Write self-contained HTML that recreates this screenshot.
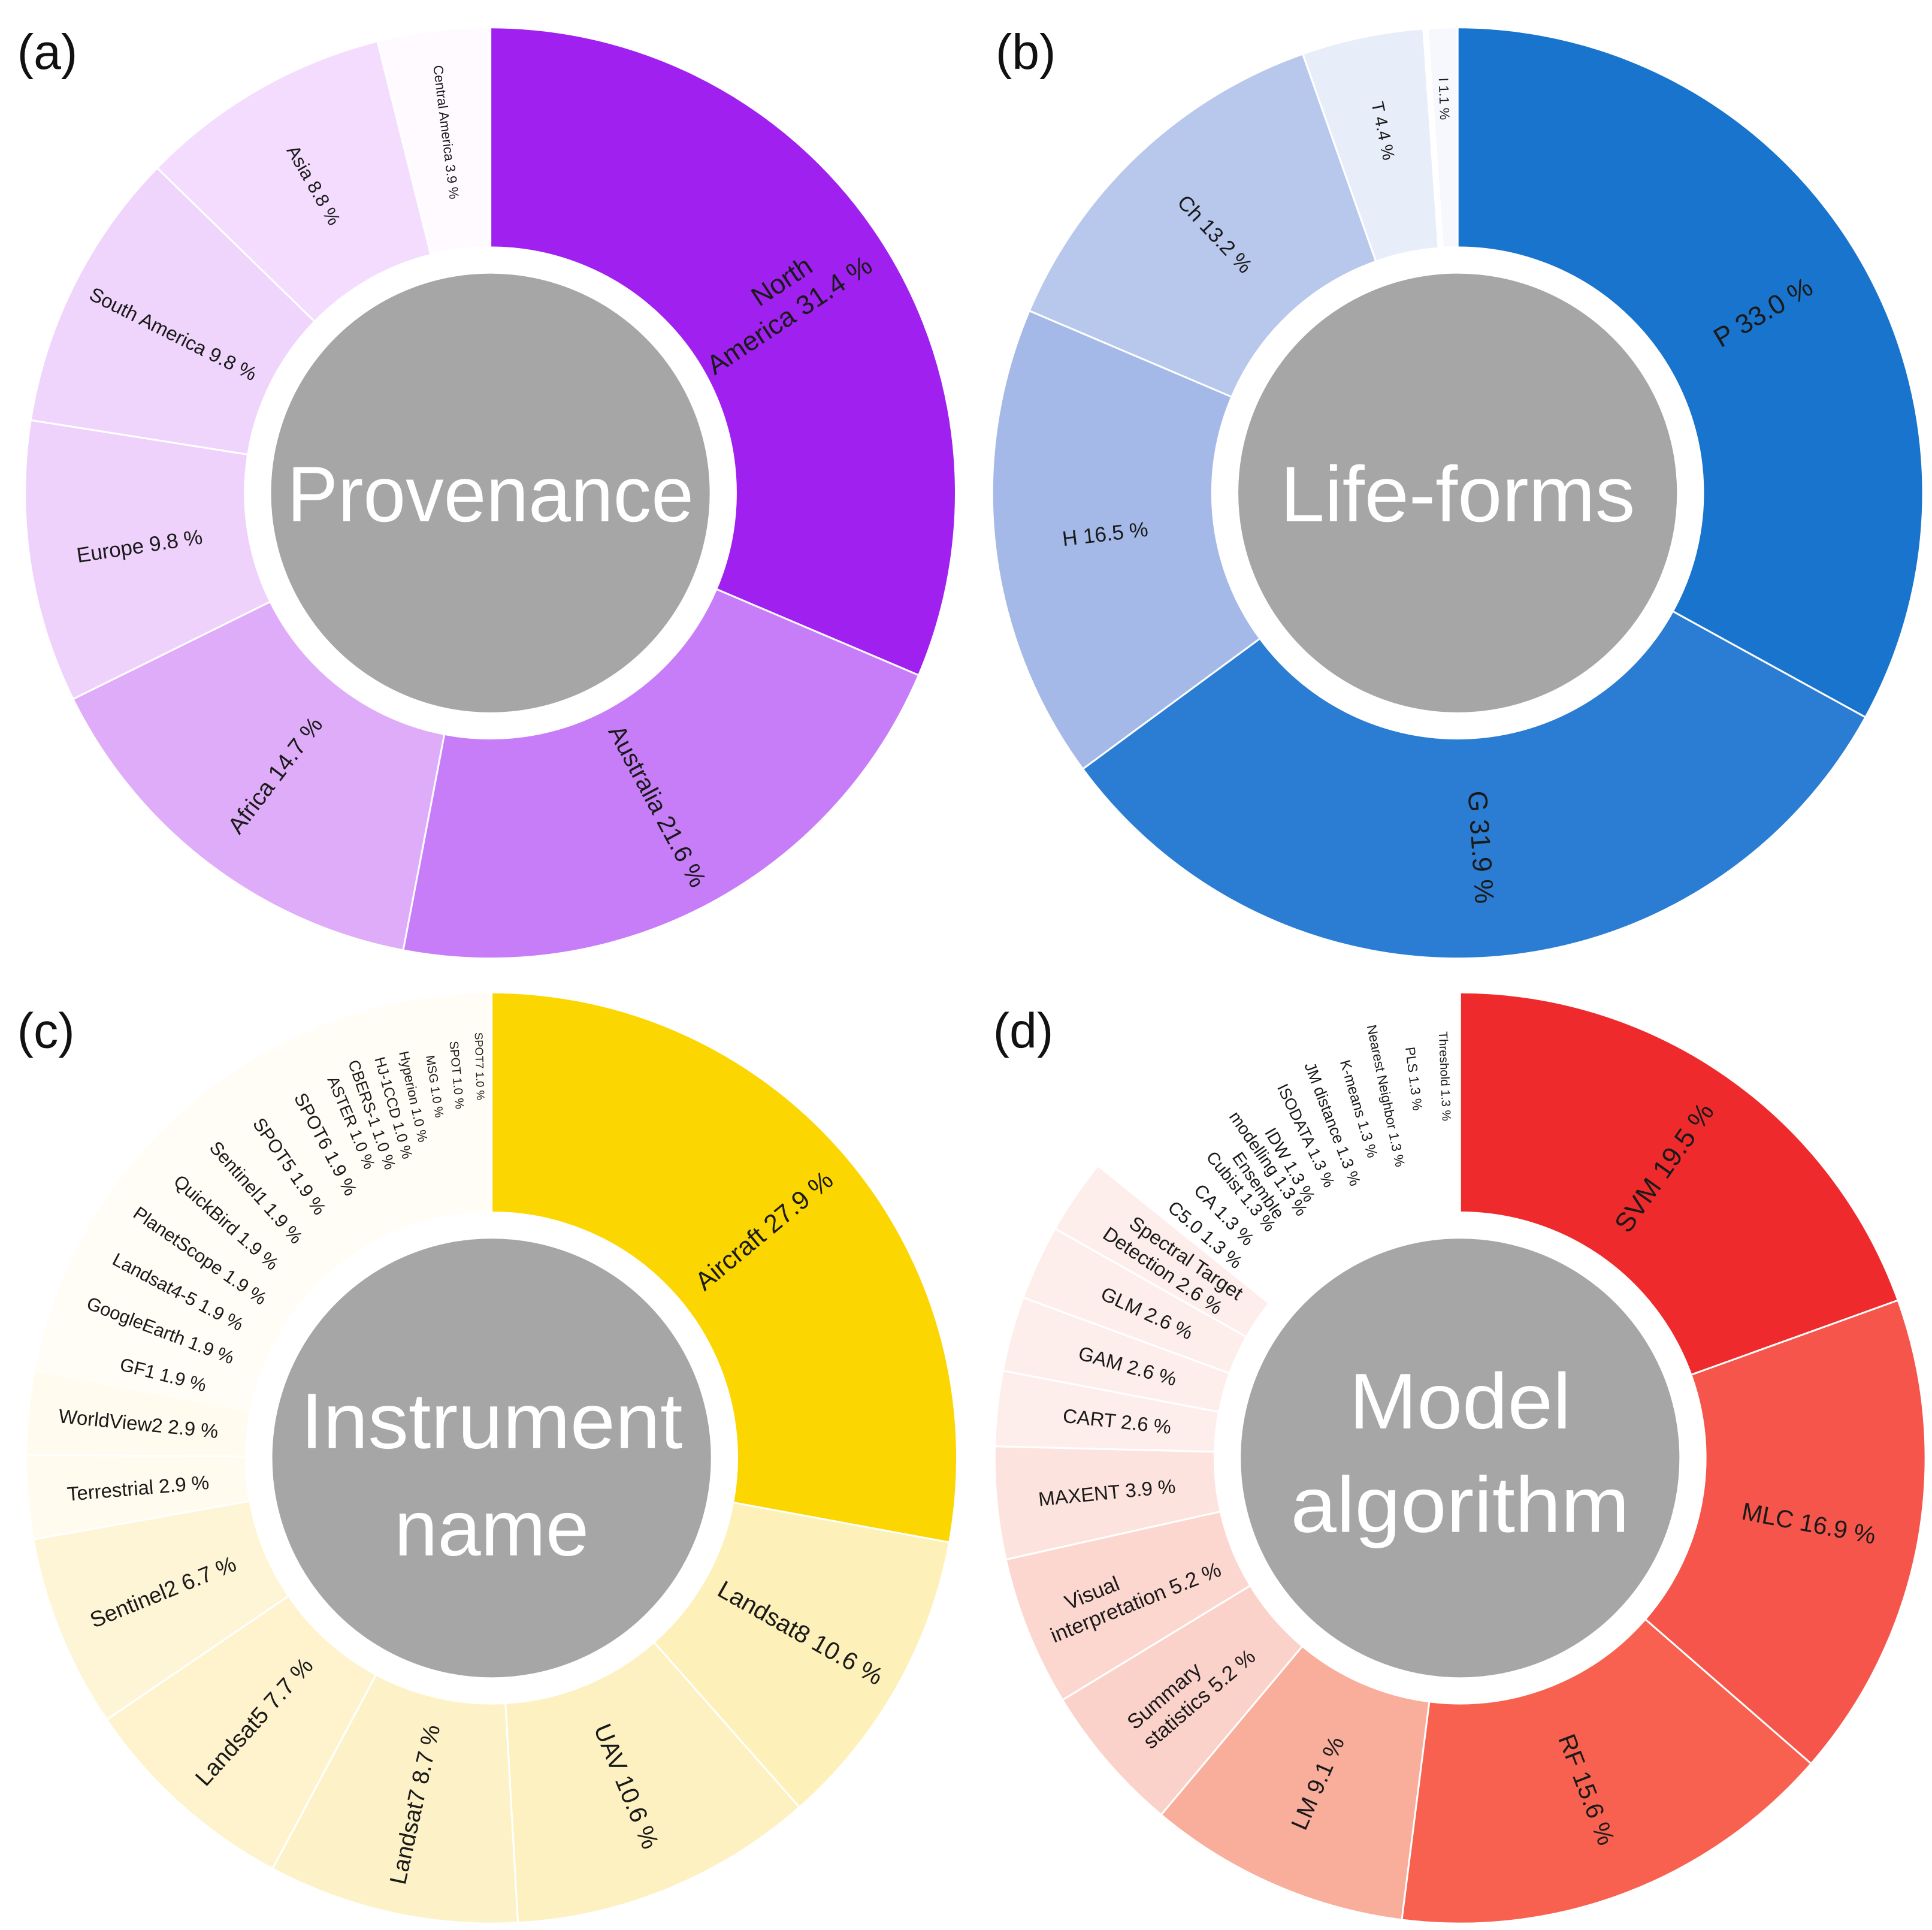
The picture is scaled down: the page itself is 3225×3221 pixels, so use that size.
<!DOCTYPE html>
<html><head><meta charset="utf-8"><style>
html,body{margin:0;padding:0;background:#fff;}
svg{display:block;}
text{font-family:"Liberation Sans",sans-serif;}
.l{fill:#1a1a1a;text-anchor:middle;dominant-baseline:central;}
.c{fill:#fff;text-anchor:middle;}
.p{fill:#111;font-size:40px;}
</style></head><body>
<svg width="3225" height="3221" viewBox="0 0 1568 1566" preserveAspectRatio="none" xmlns="http://www.w3.org/2000/svg">
<rect width="1568" height="1566" fill="#fff"/>
<text class="p" x="14" y="56">(a)</text>
<text class="p" x="808" y="56">(b)</text>
<text class="p" x="14" y="850">(c)</text>
<text class="p" x="806" y="850">(d)</text>

<!-- (a) -->
<g transform="translate(398,400)">
<g fill="none" stroke-width="177" transform="rotate(-90)">
<circle r="288.5" pathLength="100" stroke="#a020f0" stroke-dasharray="31.4 100" stroke-dashoffset="0"/>
<circle r="288.5" pathLength="100" stroke="#c77df8" stroke-dasharray="21.6 100" stroke-dashoffset="-31.4"/>
<circle r="288.5" pathLength="100" stroke="#deacf8" stroke-dasharray="14.7 100" stroke-dashoffset="-53"/>
<circle r="288.5" pathLength="100" stroke="#eed2fc" stroke-dasharray="9.8 100" stroke-dashoffset="-67.7"/>
<circle r="288.5" pathLength="100" stroke="#efd5fc" stroke-dasharray="9.8 100" stroke-dashoffset="-77.5"/>
<circle r="288.5" pathLength="100" stroke="#f3dcfd" stroke-dasharray="8.8 100" stroke-dashoffset="-87.3"/>
<circle r="288.5" pathLength="100" stroke="#fefaff" stroke-dasharray="3.9 100" stroke-dashoffset="-96.1"/>
</g>
<g stroke="#fff" stroke-width="1.5">
<line y1="-200" y2="-380" transform="rotate(0)"/><line y1="-200" y2="-380" transform="rotate(113.04)"/><line y1="-200" y2="-380" transform="rotate(190.8)"/><line y1="-200" y2="-380" transform="rotate(243.72)"/><line y1="-200" y2="-380" transform="rotate(279)"/><line y1="-200" y2="-380" transform="rotate(314.28)"/><line y1="-200" y2="-380" transform="rotate(345.96)"/>
</g>
<circle r="178" fill="#a6a6a6"/>
<text class="c" y="23" font-size="64" textLength="330" lengthAdjust="spacingAndGlyphs">Provenance</text>
<text class="l" font-size="22" transform="rotate(56.52) translate(0,-282) rotate(-90)"><tspan x="10" dy="-0.6em">North</tspan><tspan x="0" dy="1.2em">America 31.4 %</tspan></text>
<text class="l" font-size="20" transform="rotate(151.92) translate(0,-288) rotate(-90)">Australia 21.6 %</text>
<text class="l" font-size="19" transform="rotate(217.26) translate(0,-288) rotate(90)">Africa 14.7 %</text>
<text class="l" font-size="17" transform="rotate(261.36) translate(0,-288) rotate(90)">Europe  9.8 %</text>
<text class="l" font-size="16" transform="rotate(296.64) translate(0,-288) rotate(90)">South America  9.8 %</text>
<text class="l" font-size="15" transform="rotate(330.12) translate(0,-288) rotate(90)">Asia 8.8 %</text>
<text class="l" font-size="11" transform="rotate(352.98) translate(0,-295) rotate(90)">Central America 3.9 %</text>
</g>

<!-- (b) -->
<g transform="translate(1183,400)">
<g fill="none" stroke-width="177" transform="rotate(-90)">
<circle r="288.5" pathLength="100" stroke="#1874cd" stroke-dasharray="33 100" stroke-dashoffset="0"/>
<circle r="288.5" pathLength="100" stroke="#2b7dd3" stroke-dasharray="31.9 100" stroke-dashoffset="-33"/>
<circle r="288.5" pathLength="100" stroke="#a4b9e7" stroke-dasharray="16.5 100" stroke-dashoffset="-64.9"/>
<circle r="288.5" pathLength="100" stroke="#b8c8ec" stroke-dasharray="13.2 100" stroke-dashoffset="-81.4"/>
<circle r="288.5" pathLength="100" stroke="#e8eef9" stroke-dasharray="4.3 100" stroke-dashoffset="-94.6"/>
<circle r="288.5" pathLength="100" stroke="#f6f8fd" stroke-dasharray="1.1 100" stroke-dashoffset="-98.9"/>
</g>
<g stroke="#fff" stroke-width="1.5">
<line y1="-200" y2="-380"/><line y1="-200" y2="-380" transform="rotate(118.8)"/><line y1="-200" y2="-380" transform="rotate(233.64)"/><line y1="-200" y2="-380" transform="rotate(293.04)"/><line y1="-200" y2="-380" transform="rotate(340.56)"/><line y1="-200" y2="-380" transform="rotate(356.04)" stroke-width="5"/>
</g>
<circle r="178" fill="#a6a6a6"/>
<text class="c" y="23" font-size="64" textLength="288" lengthAdjust="spacingAndGlyphs">Life-forms</text>
<text class="l" font-size="22" transform="rotate(59.4) translate(0,-288) rotate(-90)">P 33.0 %</text>
<text class="l" font-size="22" transform="rotate(176.22) translate(0,-288) rotate(-90)">G 31.9 %</text>
<text class="l" font-size="17" transform="rotate(263.34) translate(0,-288) rotate(90)">H 16.5 %</text>
<text class="l" font-size="17" transform="rotate(316.8) translate(0,-288) rotate(90)">Ch 13.2 %</text>
<text class="l" font-size="14" transform="rotate(348.3) translate(0,-300) rotate(90)">T 4.4 %</text>
<text class="l" font-size="11" transform="rotate(358.02) translate(0,-320) rotate(90)">I 1.1 %</text>
</g>

<!-- (c) -->
<g transform="translate(399,1183)">
<g fill="none" stroke-width="177" transform="rotate(-90)">
<circle r="288.5" pathLength="100" stroke="#fcd600" stroke-dasharray="27.9 100" stroke-dashoffset="0"/>
<circle r="288.5" pathLength="100" stroke="#fdf0b8" stroke-dasharray="10.6 100" stroke-dashoffset="-27.9"/>
<circle r="288.5" pathLength="100" stroke="#fdf0c1" stroke-dasharray="10.6 100" stroke-dashoffset="-38.5"/>
<circle r="288.5" pathLength="100" stroke="#fdf2c7" stroke-dasharray="8.7 100" stroke-dashoffset="-49.1"/>
<circle r="288.5" pathLength="100" stroke="#fef3cd" stroke-dasharray="7.7 100" stroke-dashoffset="-57.8"/>
<circle r="288.5" pathLength="100" stroke="#fef5d7" stroke-dasharray="6.7 100" stroke-dashoffset="-65.5"/>
<circle r="288.5" pathLength="100" stroke="#fffbee" stroke-dasharray="5.8 100" stroke-dashoffset="-72.2"/>
<circle r="288.5" pathLength="100" stroke="#fffdf6" stroke-dasharray="22 100" stroke-dashoffset="-78"/>
</g>
<g stroke="#fff" stroke-width="1.5">
<line y1="-200" y2="-380"/><line y1="-200" y2="-380" transform="rotate(100.44)"/><line y1="-200" y2="-380" transform="rotate(138.6)"/><line y1="-200" y2="-380" transform="rotate(176.76)"/><line y1="-200" y2="-380" transform="rotate(208.08)"/><line y1="-200" y2="-380" transform="rotate(235.8)"/><line y1="-200" y2="-380" transform="rotate(259.92)"/><line y1="-200" y2="-380" transform="rotate(270.36)"/>
</g>
<circle r="178" fill="#a6a6a6"/>
<text class="c" y="-8" font-size="64" textLength="310" lengthAdjust="spacingAndGlyphs">Instrument</text>
<text class="c" y="79" font-size="64" textLength="158" lengthAdjust="spacingAndGlyphs">name</text>
<text class="l" font-size="21" transform="rotate(50.22) translate(0,-288) rotate(-90)">Aircraft 27.9 %</text>
<text class="l" font-size="20" transform="rotate(119.52) translate(0,-288) rotate(-90)">Landsat8 10.6 %</text>
<text class="l" font-size="20" transform="rotate(157.68) translate(0,-288) rotate(-90)">UAV 10.6 %</text>
<text class="l" font-size="19" transform="rotate(192.42) translate(0,-288) rotate(90)">Landsat7  8.7 %</text>
<text class="l" font-size="19" transform="rotate(221.94) translate(0,-288) rotate(90)">Landsat5  7.7 %</text>
<text class="l" font-size="18" transform="rotate(247.86) translate(0,-288) rotate(90)">Sentinel2  6.7 %</text>
<text class="l" font-size="16" transform="rotate(265.14) translate(0,-288) rotate(90)">Terrestrial  2.9 %</text>
<text class="l" font-size="16" transform="rotate(275.58) translate(0,-288) rotate(90)">WorldView2  2.9 %</text>
<text class="l" font-size="15" transform="rotate(284.22) translate(0,-275) rotate(90)">GF1  1.9 %</text>
<text class="l" font-size="15" transform="rotate(291.06) translate(0,-288) rotate(90)">GoogleEarth  1.9 %</text>
<text class="l" font-size="15" transform="rotate(297.9) translate(0,-288) rotate(90)">Landsat4-5  1.9 %</text>
<text class="l" font-size="15" transform="rotate(304.74) translate(0,-288) rotate(90)">PlanetScope  1.9 %</text>
<text class="l" font-size="15" transform="rotate(311.58) translate(0,-288) rotate(90)">QuickBird  1.9 %</text>
<text class="l" font-size="15" transform="rotate(318.42) translate(0,-288) rotate(90)">Sentinel1  1.9 %</text>
<text class="l" font-size="15" transform="rotate(325.26) translate(0,-288) rotate(90)">SPOT5  1.9 %</text>
<text class="l" font-size="15" transform="rotate(332.1) translate(0,-288) rotate(90)">SPOT6  1.9 %</text>
<text class="l" font-size="13" transform="rotate(337.27) translate(0,-295) rotate(90)">ASTER  1.0 %</text>
<text class="l" font-size="13" transform="rotate(340.77) translate(0,-295) rotate(90)">CBERS-1  1.0 %</text>
<text class="l" font-size="12" transform="rotate(344.27) translate(0,-295) rotate(90)">HJ-1CCD  1.0 %</text>
<text class="l" font-size="11" transform="rotate(347.76) translate(0,-300) rotate(90)">Hyperion  1.0 %</text>
<text class="l" font-size="10" transform="rotate(351.26) translate(0,-305) rotate(90)">MSG  1.0 %</text>
<text class="l" font-size="10" transform="rotate(354.76) translate(0,-312) rotate(90)">SPOT  1.0 %</text>
<text class="l" font-size="9" transform="rotate(358.26) translate(0,-318) rotate(90)">SPOT7  1.0 %</text>
</g>

<!-- (d) -->
<g transform="translate(1185,1183)">
<g fill="none" stroke-width="177" transform="rotate(-90)">
<circle r="288.5" pathLength="100" stroke="#ee2a2c" stroke-dasharray="19.5 100" stroke-dashoffset="0"/>
<circle r="288.5" pathLength="100" stroke="#f5554a" stroke-dasharray="16.9 100" stroke-dashoffset="-19.5"/>
<circle r="288.5" pathLength="100" stroke="#f8614f" stroke-dasharray="15.6 100" stroke-dashoffset="-36.4"/>
<circle r="288.5" pathLength="100" stroke="#f9ad9b" stroke-dasharray="9.1 100" stroke-dashoffset="-52"/>
<circle r="288.5" pathLength="100" stroke="#fbd2ca" stroke-dasharray="5.2 100" stroke-dashoffset="-61.1"/>
<circle r="288.5" pathLength="100" stroke="#fcd7d0" stroke-dasharray="5.2 100" stroke-dashoffset="-66.3"/>
<circle r="288.5" pathLength="100" stroke="#fde3de" stroke-dasharray="3.9 100" stroke-dashoffset="-71.5"/>
<circle r="288.5" pathLength="100" stroke="#feeeeb" stroke-dasharray="10.4 100" stroke-dashoffset="-75.4"/>
<circle r="288.5" pathLength="100" stroke="#ffffff" stroke-dasharray="14.2 100" stroke-dashoffset="-85.8"/>
</g>
<g stroke="#fff" stroke-width="1.5">
<line y1="-200" y2="-380"/><line y1="-200" y2="-380" transform="rotate(70.2)"/><line y1="-200" y2="-380" transform="rotate(131.04)"/><line y1="-200" y2="-380" transform="rotate(187.2)"/><line y1="-200" y2="-380" transform="rotate(219.96)"/><line y1="-200" y2="-380" transform="rotate(238.68)"/><line y1="-200" y2="-380" transform="rotate(257.4)"/><line y1="-200" y2="-380" transform="rotate(271.44)"/><line y1="-200" y2="-380" transform="rotate(280.8)"/><line y1="-200" y2="-380" transform="rotate(290.16)"/><line y1="-200" y2="-380" transform="rotate(299.52)"/>
</g>
<circle r="178" fill="#a6a6a6"/>
<text class="c" y="-24" font-size="64" textLength="180" lengthAdjust="spacingAndGlyphs">Model</text>
<text class="c" y="60" font-size="64" textLength="275" lengthAdjust="spacingAndGlyphs">algorithm</text>
<text class="l" font-size="22" transform="rotate(35.1) translate(0,-288) rotate(-90)">SVM 19.5 %</text>
<text class="l" font-size="20" transform="rotate(100.62) translate(0,-288) rotate(-90)">MLC 16.9 %</text>
<text class="l" font-size="20" transform="rotate(159.12) translate(0,-288) rotate(-90)">RF 15.6 %</text>
<text class="l" font-size="19" transform="rotate(203.58) translate(0,-288) rotate(90)">LM  9.1 %</text>
<text class="l" font-size="17" transform="rotate(229.32) translate(0,-288) rotate(90)"><tspan x="-20" dy="-0.6em">Summary</tspan><tspan x="0" dy="1.2em">statistics  5.2 %</tspan></text>
<text class="l" font-size="17" transform="rotate(248.04) translate(0,-288) rotate(90)"><tspan x="-30" dy="-0.6em">Visual</tspan><tspan x="0" dy="1.2em">interpretation  5.2 %</tspan></text>
<text class="l" font-size="16" transform="rotate(264.42) translate(0,-288) rotate(90)">MAXENT  3.9 %</text>
<text class="l" font-size="16" transform="rotate(276.12) translate(0,-280) rotate(90)">CART  2.6 %</text>
<text class="l" font-size="16" transform="rotate(285.48) translate(0,-280) rotate(90)">GAM  2.6 %</text>
<text class="l" font-size="16" transform="rotate(294.84) translate(0,-280) rotate(90)">GLM  2.6 %</text>
<text class="l" font-size="16" transform="rotate(304.2) translate(0,-285) rotate(90)"><tspan x="10" dy="-0.6em">Spectral Target</tspan><tspan x="0" dy="1.2em">Detection  2.6 %</tspan></text>
<text class="l" font-size="15" transform="rotate(311.2) translate(0,-275) rotate(90)">C5.0  1.3 %</text>
<text class="l" font-size="15" transform="rotate(315.85) translate(0,-275) rotate(90)">CA  1.3 %</text>
<text class="l" font-size="14" transform="rotate(320.5) translate(0,-280) rotate(90)">Cubist  1.3 %</text>
<text class="l" font-size="14" transform="rotate(325.15) translate(0,-285) rotate(90)"><tspan x="0" dy="-0.6em">modelling 1.3 %</tspan><tspan x="10" dy="1.2em">Ensemble</tspan></text>
<text class="l" font-size="14" transform="rotate(329.79) translate(0,-275) rotate(90)">IDW  1.3 %</text>
<text class="l" font-size="13" transform="rotate(334.44) translate(0,-290) rotate(90)">ISODATA  1.3 %</text>
<text class="l" font-size="13" transform="rotate(339.09) translate(0,-290) rotate(90)">JM distance  1.3 %</text>
<text class="l" font-size="12" transform="rotate(343.74) translate(0,-295) rotate(90)">K-means  1.3 %</text>
<text class="l" font-size="11" transform="rotate(348.39) translate(0,-300) rotate(90)">Nearest Neighbor  1.3 %</text>
<text class="l" font-size="11" transform="rotate(353.03) translate(0,-310) rotate(90)">PLS  1.3 %</text>
<text class="l" font-size="10" transform="rotate(357.67) translate(0,-310) rotate(90)">Threshold  1.3 %</text>
</g>
</svg>
</body></html>
